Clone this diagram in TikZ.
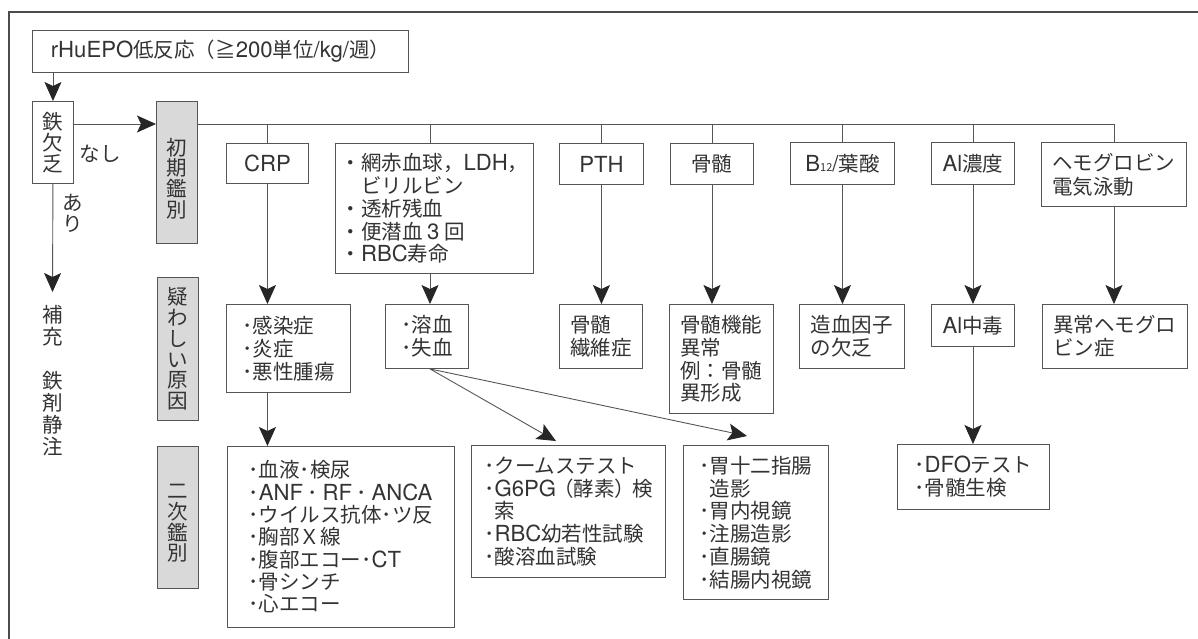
\documentclass[tikz,border=0pt]{standalone}
\usepackage{fontspec}
\setmainfont{Noto Sans CJK JP}
\newfontfamily\latfont{TeX Gyre Heros}[Scale=1.08]
\newcommand\latn[1]{{\latfont #1}}
\usetikzlibrary{arrows.meta}
\definecolor{tx}{HTML}{333333}
\definecolor{ln}{HTML}{555555}
\begin{document}
\begin{tikzpicture}[x=1pt,y=-1pt,
  every node/.style={font=\fontsize{20.5}{22.8}\selectfont, text=tx},
  box/.style={draw=ln, line width=0.9pt, rectangle, inner sep=0pt, anchor=north west, align=left},
  gbox/.style={box, fill=black!15},
  vtext/.style={align=center, inner sep=0pt, font=\fontsize{20.5}{20.8}\selectfont},
  conn/.style={draw=ln, line width=0.9pt},
  arr/.style={conn, -{Stealth[length=19pt,width=17pt,inset=4pt,color=black!85]}}]
\useasboundingbox (0,0) rectangle (1198,638);
% frame
\draw[draw=black!70, line width=1.5pt] (9,640) -- (9,12) -- (1200,12);

% nodes
\node[box, minimum width=376pt, minimum height=42pt] (top) at (32,30) {\latn{rHuEPO}低反応（≧\latn{200}単位\latn{/kg/}週）};
\node[box, vtext, minimum width=41pt, minimum height=82pt] (tetsu) at (32,101) {鉄\\欠\\乏};
\node[gbox, minimum width=41pt, minimum height=142pt] (shoki) at (156,101) {};
\node[vtext] (shokiT) at ([yshift=-6pt]shoki.center) {初\\期\\鑑\\別};
\node[gbox, minimum width=41pt, minimum height=143pt] (utagawa) at (157,277) {};
\node[vtext] (utagawaT) at (utagawa.center) {疑\\わ\\し\\い\\原\\因};
\node[gbox, minimum width=41pt, minimum height=142pt] (niji) at (157,446) {};
\node[vtext] (nijiT) at ([yshift=-6pt]niji.center) {二\\次\\鑑\\別};

\node[box, align=center, minimum width=82pt, minimum height=40pt] (crp) at (226,143) {\latn{CRP}};
\node[box, minimum width=198pt, minimum height=130pt] (mou) at (335,143) {・網赤血球，\latn{LDH}，\\\hphantom{・}ビリルビン\\・透析残血\\・便潜血 \latn{3} 回\\・\latn{RBC}寿命};
\node[box, align=center, minimum width=84pt, minimum height=41pt] (pth) at (559,143) {\latn{PTH}};
\node[box, align=center, minimum width=83pt, minimum height=41pt] (kotsu) at (670,143) {骨髄};
\node[box, align=center, minimum width=104pt, minimum height=42pt] (b12) at (790,142) {\latn{B}{\fontsize{11}{11}\selectfont 12}\latn{/}葉酸};
\node[box, align=center, minimum width=83pt, minimum height=42pt] (al) at (931,142) {\latn{Al}濃度};
\node[box, minimum width=145pt, minimum height=64pt, font=\fontsize{20.5}{24}\selectfont] (hemo) at (1041,142) {ヘモグロビン\\電気泳動};

\node[box, minimum width=124pt, minimum height=88pt] (kansen) at (226,304) {･感染症\\･炎症\\･悪性腫瘍};
\node[box, minimum width=83pt, minimum height=64pt] (youketsu) at (385,304) {･溶血\\･失血};
\node[box, minimum width=83pt, minimum height=64pt] (sen) at (559,304) {骨髄\\繊維症};
\node[box, minimum width=104pt, minimum height=109pt] (kinou) at (669,304) {骨髄機能\\異常\\例：骨髄\\異形成};
\node[box, minimum width=105pt, minimum height=64pt] (zouketsu) at (799,304) {造血因子\\の欠乏};
\node[box, align=center, minimum width=83pt, minimum height=42pt] (alchu) at (931,304) {\latn{Al}中毒};
\node[box, minimum width=145pt, minimum height=64pt] (ijou) at (1042,304) {異常ヘモグロ\\ビン症};

\node[box, minimum width=227pt, minimum height=181pt, font=\fontsize{20.5}{22.3}\selectfont] (ketsueki) at (227,446) {･血液･検尿\\･\latn{ANF} ･ \latn{RF} ･ \latn{ANCA}\\･ウイルス抗体･ツ反\\･胸部Ｘ線\\･腹部エコー･\latn{CT}\\･骨シンチ\\･心エコー};
\node[box, minimum width=194pt, minimum height=132pt] (coombs) at (471,445) {･クームステスト\\･\latn{G6PG}\kern-3pt（酵素）\kern-3pt 検\\\hphantom{･}索\\･\latn{RBC}幼若性試験\\･酸溶血試験};
\node[box, minimum width=145pt, minimum height=154pt] (i12) at (683,445) {･胃十二指腸\\\hphantom{･}造影\\･胃内視鏡\\･注腸造影\\･直腸鏡\\･結腸内視鏡};
\node[box, minimum width=152pt, minimum height=65pt] (dfo) at (897,444) {･\latn{DFO}テスト\\･骨髄生検};

% labels
\node (nashi) at (100,154) {なし};
\node[vtext] (ari) at (73,213) {あ\\り};
\node[vtext, font=\fontsize{20.5}{22}\selectfont] (hojuu) at (53,381) {補\\充\\\mbox{}\\鉄\\剤\\静\\注};

% coordinates
\coordinate (lineY) at (0,124);
\coordinate (aritip) at (52.5,292);
\coordinate (mx) at (430,0);
\coordinate (t1) at (556,441);
\coordinate (t2) at (747,436);

% connectors
\draw[arr] (top.south -| tetsu.north) -- (tetsu.north);
\draw[arr] (tetsu.east |- lineY) -- (shoki.west |- lineY);
\draw[arr] (tetsu.south) -- (aritip);
\draw[conn] (shoki.east |- lineY) -- (hemo.north |- lineY) -- (hemo.north);
\foreach \n in {crp,pth,kotsu,b12,al} \draw[conn] (\n.north |- lineY) -- (\n.north);
\draw[conn] (mx |- lineY) -- (mx |- mou.north);

\draw[arr] (crp.south) -- (crp.south |- kansen.north);
\draw[arr] (mx |- mou.south) -- (mx |- youketsu.north);
\draw[arr] (pth.south) -- (pth.south |- sen.north);
\draw[arr] (kotsu.south) -- (kotsu.south |- kinou.north);
\draw[arr] (b12.south) -- (b12.south |- zouketsu.north);
\draw[arr] (al.south) -- (al.south |- alchu.north);
\draw[arr] (hemo.south) -- (hemo.south |- ijou.north);

\draw[arr] (crp.south |- kansen.south) -- (crp.south |- ketsueki.north);
\draw[arr] (mx |- youketsu.south) -- (t1);
\draw[arr] (mx |- youketsu.south) -- (t2);
\draw[arr] (alchu.south) -- (alchu.south |- dfo.north);
\end{tikzpicture}
\end{document}
